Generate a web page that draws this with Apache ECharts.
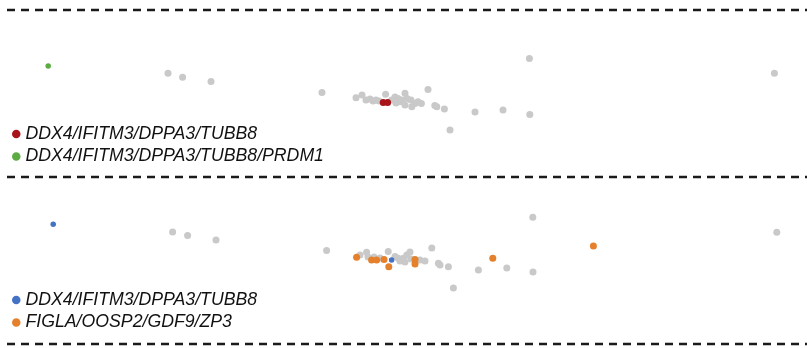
<!DOCTYPE html>
<html>
<head>
<meta charset="utf-8">
<script src="https://cdn.jsdelivr.net/npm/echarts@6/dist/echarts.min.js"></script>
<style>html,body{margin:0;padding:0;background:#fff;}#chart{width:807px;height:348px;}</style>
</head>
<body>
<div id="chart"></div>
<script>
// Panel A (top) — [dim1, dim2]
const topGrey = [
  [-11.6,1.19],[-10.87,0.99],[-9.45,0.77],[-3.9,0.22],[-2.2,-0.04],[-1.9,0.1],[-1.7,-0.15],
  [-1.5,-0.1],[-1.35,-0.2],[-1.2,-0.15],[-1.05,-0.2],[-0.72,0.14],[-0.42,-0.15],[-0.25,0],
  [-0.1,-0.08],[-0.2,-0.3],[0,-0.24],[0.09,-0.15],[0.25,0.19],[0.25,-0.4],[0.35,-0.08],
  [0.55,-0.15],[0.59,-0.49],[0.75,-0.32],[0.9,-0.24],[1.07,-0.32],[1.4,0.37],[1.74,-0.42],
  [1.84,-0.49],[2.22,-0.6],[2.5,-1.65],[3.75,-0.75],[5.15,-0.65],[6.47,1.92],[6.49,-0.87],
  [18.72,1.19]
];
const topDDX4 = [[-0.84,-0.27],[-0.62,-0.27]];
const topPRDM1 = [[-17.59,1.55]];

// Panel B (bottom)
const botGrey = [
  [-11.37,1.6],[-10.62,1.42],[-9.2,1.2],[-3.67,0.67],[-2.0,0.45],[-1.67,0.59],[-1.6,0.35],
  [-1.3,0.35],[-1.0,0.3],[-0.59,0.62],[-0.25,0.37],[-0.09,0.29],[0,0.15],[0.17,0.29],
  [0.25,0.1],[0.34,0.45],[0.5,0.6],[0.55,0.25],[1.0,0.2],[1.25,0.15],[1.59,0.8],[1.92,0.04],
  [2.0,-0.05],[2.42,-0.14],[2.67,-1.2],[3.92,-0.3],[5.34,-0.2],[6.64,2.34],[6.65,-0.4],
  [18.84,1.59]
];
const botDDX4 = [[-17.34,1.99],[-0.42,0.2]];
const botFIGLA = [
  [-2.17,0.34],[-1.42,0.2],[-1.17,0.2],[-0.8,0.23],[-0.56,-0.14],[0.75,0.23],[0.75,0],
  [4.64,0.29],[9.67,0.9]
];

const legendLabels = {
  topDDX4: 'DDX4/IFITM3/DPPA3/TUBB8',
  topPRDM1: 'DDX4/IFITM3/DPPA3/TUBB8/PRDM1',
  botDDX4: 'DDX4/IFITM3/DPPA3/TUBB8',
  botFIGLA: 'FIGLA/OOSP2/GDF9/ZP3'
};

const chart = echarts.init(document.getElementById('chart'), null, {renderer: 'canvas'});
const axisX = (gi) => ({type: 'value', gridIndex: gi, min: -20, max: 20, show: false});
const axisY = (gi) => ({type: 'value', gridIndex: gi, min: -4, max: 4, show: false});
const sc = (name, data, gi, color, size, z) => ({
  name, type: 'scatter', xAxisIndex: gi, yAxisIndex: gi, data,
  symbol: 'circle', symbolSize: size, itemStyle: {color, opacity: 1}, z,
  emphasis: {disabled: true}, silent: true
});
const legendCommon = {
  orient: 'vertical', left: 12, padding: 0, itemWidth: 8.5, itemHeight: 8.5, itemGap: 2.5,
  icon: 'circle', selectedMode: false,
  formatter: (n) => legendLabels[n],
  textStyle: {fontFamily: 'Liberation Sans, Arial, sans-serif', fontStyle: 'italic', fontSize: 17.7, color: '#111', lineHeight: 20}
};
const dash = (y) => ({
  type: 'line', shape: {x1: 7, y1: y, x2: 807, y2: y},
  style: {stroke: '#1a1a1a', lineWidth: 2.6, lineDash: [8, 6]}, silent: true
});

chart.setOption({
  animation: false,
  backgroundColor: '#fff',
  grid: [
    {left: 0, width: 800, top: 17, height: 160},
    {left: 0, width: 800, top: 184, height: 160}
  ],
  xAxis: [axisX(0), axisX(1)],
  yAxis: [axisY(0), axisY(1)],
  legend: [
    Object.assign({top: 124, data: ['topDDX4', 'topPRDM1']}, legendCommon),
    Object.assign({top: 290, data: ['botDDX4', 'botFIGLA']}, legendCommon)
  ],
  graphic: [dash(10), dash(177), dash(344)],
  series: [
    sc('greyA', topGrey, 0, '#c9c9c9', 7, 1),
    sc('topDDX4', topDDX4, 0, '#a81419', 7, 3),
    sc('topPRDM1', topPRDM1, 0, '#5dab43', 5.5, 3),
    sc('greyB', botGrey, 1, '#c9c9c9', 7, 1),
    sc('botFIGLA', botFIGLA, 1, '#e5802c', 7, 3),
    sc('botDDX4', botDDX4, 1, '#4472c4', 5.5, 4)
  ]
});
</script>
</body>
</html>
